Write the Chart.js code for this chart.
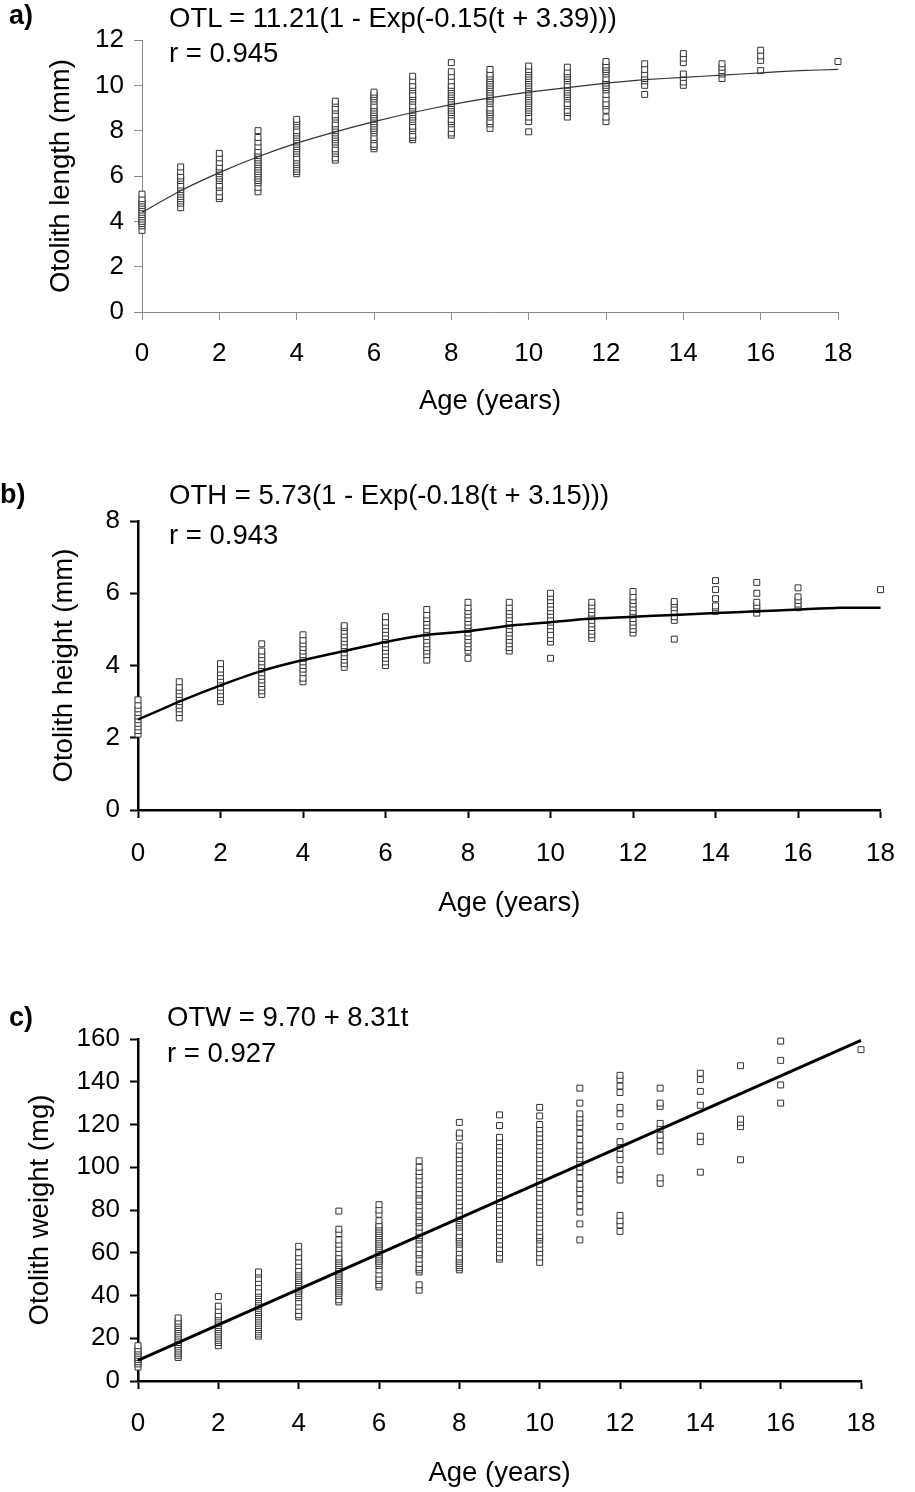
<!DOCTYPE html>
<html>
<head>
<meta charset="utf-8">
<script src="https://cdn.jsdelivr.net/npm/chart.js@4.4.0/dist/chart.umd.min.js"></script>
<style>
  body { margin: 0; background: #fff; width: 915px; height: 1492px; position: relative; overflow: hidden;
         font-family: "Liberation Sans", Arial, sans-serif; color: #000; }
  .panel { position: absolute; left: 0; width: 915px; }
  .note { position: absolute; font-size: 27.5px; line-height: 30px; white-space: nowrap; }
  .tag { position: absolute; font-size: 27px; font-weight: bold; line-height: 28px; }
</style>
</head>
<body>

<div class="panel" style="top:0;height:430px"><canvas id="chartA" width="915" height="430"></canvas></div>
<div class="panel" style="top:470px;height:460px"><canvas id="chartB" width="915" height="460"></canvas></div>
<div class="panel" style="top:990px;height:502px"><canvas id="chartC" width="915" height="502"></canvas></div>

<div class="tag" style="left:9px;top:1px">a)</div>
<div class="note" style="left:169px;top:3px">OTL = 11.21(1 - Exp(-0.15(t + 3.39)))</div>
<div class="note" style="left:169px;top:38px">r = 0.945</div>

<div class="tag" style="left:0px;top:480px">b)</div>
<div class="note" style="left:169px;top:480px">OTH = 5.73(1 - Exp(-0.18(t + 3.15)))</div>
<div class="note" style="left:169px;top:520px">r = 0.943</div>

<div class="tag" style="left:9px;top:1003px">c)</div>
<div class="note" style="left:167px;top:1002px">OTW = 9.70 + 8.31t</div>
<div class="note" style="left:167px;top:1038px">r = 0.927</div>

<script>
// ages 0..18 (no fish of age 17)
const ages = [0, 1, 2, 3, 4, 5, 6, 7, 8, 9, 10, 11, 12, 13, 14, 15, 16, 17, 18];

// a) otolith length (mm), one list per age
const lengthByAge = [
  [3.6, 3.8, 3.9, 4.0, 4.1, 4.2, 4.3, 4.4, 4.5, 4.6, 4.7, 4.8, 4.9, 5.0, 5.2],
  [4.6, 4.8, 4.9, 5.0, 5.1, 5.2, 5.3, 5.4, 5.5, 5.6, 5.8, 5.9, 6.0, 6.2, 6.4],
  [5.0, 5.1, 5.3, 5.5, 5.6, 5.8, 5.9, 6.0, 6.1, 6.2, 6.3, 6.4, 6.6, 6.8, 7.0],
  [5.3, 5.5, 5.7, 5.8, 5.9, 6.0, 6.1, 6.2, 6.3, 6.4, 6.5, 6.6, 6.7, 6.8, 6.9, 7.0, 7.1, 7.3, 7.5, 7.7, 8.0],
  [6.1, 6.2, 6.3, 6.4, 6.5, 6.6, 6.7, 6.8, 7.0, 7.1, 7.2, 7.3, 7.4, 7.5, 7.6, 7.7, 7.8, 7.9, 8.0, 8.2, 8.3, 8.4, 8.5],
  [6.7, 6.8, 7.0, 7.1, 7.2, 7.4, 7.5, 7.6, 7.7, 7.8, 7.9, 8.0, 8.1, 8.2, 8.3, 8.5, 8.6, 8.7, 8.9, 9.0, 9.2, 9.3],
  [7.2, 7.3, 7.4, 7.6, 7.7, 7.9, 8.0, 8.1, 8.2, 8.3, 8.4, 8.5, 8.6, 8.7, 8.8, 8.9, 9.0, 9.1, 9.3, 9.4, 9.5, 9.6, 9.7],
  [7.6, 7.7, 7.8, 8.0, 8.1, 8.2, 8.4, 8.5, 8.6, 8.7, 8.8, 8.9, 9.0, 9.1, 9.3, 9.4, 9.5, 9.6, 9.8, 9.9, 10.0, 10.2, 10.4],
  [7.8, 7.9, 8.1, 8.3, 8.4, 8.5, 8.7, 8.8, 8.9, 9.0, 9.1, 9.2, 9.3, 9.4, 9.5, 9.6, 9.7, 9.8, 9.9, 10.0, 10.2, 10.4, 10.6, 11.0],
  [8.1, 8.3, 8.4, 8.6, 8.7, 8.8, 8.9, 9.0, 9.2, 9.3, 9.4, 9.5, 9.6, 9.7, 9.8, 9.9, 10.0, 10.1, 10.2, 10.3, 10.4, 10.5, 10.7],
  [7.95, 8.4, 8.6, 8.8, 8.9, 9.0, 9.1, 9.2, 9.3, 9.4, 9.5, 9.6, 9.7, 9.8, 9.9, 10.0, 10.1, 10.2, 10.3, 10.4, 10.5, 10.6, 10.7, 10.85],
  [8.6, 8.8, 8.9, 9.1, 9.2, 9.4, 9.5, 9.6, 9.7, 9.8, 9.9, 10.0, 10.2, 10.3, 10.4, 10.5, 10.6, 10.8],
  [8.4, 8.6, 8.9, 9.1, 9.2, 9.4, 9.6, 9.8, 9.9, 10.0, 10.1, 10.2, 10.3, 10.5, 10.6, 10.7, 10.8, 10.9, 11.05],
  [9.6, 10.0, 10.2, 10.3, 10.5, 10.7, 10.95],
  [10.0, 10.15, 10.35, 10.5, 11.0, 11.2, 11.4],
  [10.3, 10.5, 10.65, 10.8, 10.95],
  [10.65, 11.1, 11.3, 11.55],
  [],
  [11.05]
];
const lengthFit = [4.4, 5.35, 6.15, 6.85, 7.45, 7.95, 8.4, 8.8, 9.15, 9.45, 9.7, 9.9, 10.1, 10.25, 10.35, 10.45, 10.55, 10.65, 10.7];

// b) otolith height (mm)
const heightByAge = [
  [2.1, 2.2, 2.3, 2.4, 2.5, 2.6, 2.7, 2.8, 2.9, 3.05],
  [2.55, 2.7, 2.8, 2.9, 3.0, 3.1, 3.2, 3.3, 3.4, 3.55],
  [3.0, 3.1, 3.2, 3.3, 3.4, 3.5, 3.6, 3.7, 3.8, 3.9, 4.05],
  [3.2, 3.3, 3.4, 3.5, 3.6, 3.7, 3.8, 3.9, 4.0, 4.1, 4.2, 4.3, 4.4, 4.6],
  [3.55, 3.65, 3.8, 3.9, 4.0, 4.1, 4.2, 4.3, 4.4, 4.5, 4.6, 4.7, 4.85],
  [3.95, 4.05, 4.15, 4.25, 4.35, 4.45, 4.55, 4.65, 4.75, 4.85, 4.95, 5.05, 5.1],
  [4.0, 4.1, 4.2, 4.3, 4.4, 4.5, 4.6, 4.7, 4.8, 4.9, 5.0, 5.1, 5.2, 5.35],
  [4.15, 4.3, 4.4, 4.5, 4.6, 4.7, 4.8, 4.9, 5.0, 5.1, 5.2, 5.3, 5.4, 5.55],
  [4.2, 4.4, 4.5, 4.6, 4.7, 4.8, 4.9, 5.0, 5.1, 5.2, 5.3, 5.4, 5.5, 5.6, 5.75],
  [4.4, 4.5, 4.6, 4.7, 4.8, 4.9, 5.0, 5.1, 5.2, 5.3, 5.4, 5.5, 5.6, 5.75],
  [4.2, 4.65, 4.75, 4.85, 5.0, 5.1, 5.2, 5.3, 5.4, 5.5, 5.6, 5.7, 5.8, 5.9, 6.0],
  [4.75, 4.85, 4.95, 5.05, 5.15, 5.25, 5.35, 5.45, 5.55, 5.65, 5.75],
  [4.9, 5.0, 5.1, 5.2, 5.3, 5.4, 5.5, 5.6, 5.7, 5.8, 5.9, 6.05],
  [4.73, 5.25, 5.35, 5.5, 5.6, 5.7, 5.77],
  [5.5, 5.6, 5.65, 5.85, 6.1, 6.35],
  [5.45, 5.55, 5.65, 5.75, 6.0, 6.3],
  [5.6, 5.7, 5.8, 5.9, 6.15],
  [],
  [6.1]
];
const heightFit = [2.5, 3.0, 3.45, 3.85, 4.15, 4.4, 4.65, 4.85, 4.95, 5.1, 5.2, 5.3, 5.35, 5.4, 5.45, 5.5, 5.55, 5.6, 5.6];

// c) otolith weight (mg)
const weightByAge = [
  [6.5, 8, 9, 10, 11, 12, 13, 14, 15, 16.5],
  [11, 12, 13, 14, 15, 16, 17, 18, 19, 20, 21, 22, 23, 24, 25, 26, 27, 28, 29.5],
  [16.5, 18, 19, 20, 21, 22, 23, 24, 25, 26, 27, 28, 29, 30, 31, 33, 35, 39.5],
  [21, 22, 23, 24, 25, 26, 27, 28, 29, 30, 31, 32, 33, 34, 35, 36, 37, 38, 39, 40, 41, 42, 44, 46, 48, 50, 51],
  [30, 31, 33, 35, 37, 39, 40, 41, 42, 43, 44, 45, 46, 47, 48, 49, 50, 51, 52, 54, 56, 58, 60, 63],
  [37, 38, 40, 41, 42, 43, 44, 45, 46, 47, 48, 49, 50, 51, 52, 53, 54, 55, 56, 57, 58, 60, 62, 64, 66, 69, 71, 79.5],
  [44, 45, 47, 48, 50, 52, 54, 55, 56, 57, 58, 59, 60, 61, 62, 63, 64, 65, 66, 67, 68, 69, 70, 71, 72, 73, 75, 78, 80, 82.5],
  [42.5, 45, 51, 52, 53, 55, 57, 59, 60, 62, 64, 66, 67, 68, 70, 72, 74, 75, 77, 78, 80, 82, 84, 85, 87, 88, 90, 92, 94, 96, 98, 100, 103],
  [52, 53, 54, 55, 56, 57, 58, 60, 62, 64, 65, 66, 67, 68, 70, 72, 73, 74, 75, 76, 77, 78, 80, 82, 84, 86, 88, 90, 92, 94, 96, 98, 100, 102, 104, 106, 108, 110, 114, 116, 121],
  [57, 58, 60, 62, 64, 66, 68, 70, 72, 74, 76, 78, 80, 82, 84, 86, 88, 90, 92, 94, 96, 98, 100, 102, 104, 106, 108, 110, 112, 114, 119.5, 124.5],
  [55.5, 58, 60, 62, 64, 66, 67, 68, 70, 72, 74, 76, 78, 80, 82, 84, 86, 88, 90, 92, 94, 96, 98, 100, 102, 104, 106, 108, 110, 112, 114, 116, 118, 120, 124, 128],
  [66, 73.5, 79, 82, 85, 88, 90, 92, 95, 98, 100, 102, 104, 106, 108, 110, 113, 116, 119, 121, 123, 125, 130, 137],
  [70, 73, 75, 77.5, 94, 97, 99, 103.5, 106, 109, 112, 119, 125, 128, 135, 138, 141, 143],
  [92.5, 95, 107.5, 110, 113, 115, 118, 120.5, 128.5, 130, 137],
  [97.7, 112, 114.5, 129, 135.5, 141, 144],
  [103.5, 119, 121, 122.5, 147.5],
  [130, 138.5, 150, 159],
  [],
  [155]
];
// straight regression line, read at both ends
const weightFitAges = [0, 18];
const weightFit = [9.7, 159.3];

const FONT = '"Liberation Sans", Arial, sans-serif';

function toPoints(byAge) {
  const pts = [];
  byAge.forEach((vals, i) => vals.forEach(v => pts.push({ x: ages[i], y: v })));
  return pts;
}

function pair(xs, ys) {
  return xs.map((x, i) => ({ x: x, y: ys[i] }));
}

function makeChart(id, p) {
  const axisTitle = { size: 27.5, family: FONT };
  const tickFont = { size: 26, family: FONT };
  return new Chart(document.getElementById(id), {
    type: 'scatter',
    data: {
      datasets: [
        {
          data: p.fit,
          showLine: true,
          borderColor: p.lineColor,
          borderWidth: p.lineWidth,
          pointRadius: 0,
          fill: false,
          tension: 0.2,
          clip: false
        },
        {
          data: p.points,
          pointStyle: 'rect',
          pointRadius: 4.2,
          borderWidth: 1,
          borderColor: '#333',
          backgroundColor: '#fff',
          clip: false
        }
      ]
    },
    options: {
      responsive: false,
      animation: false,
      devicePixelRatio: 1,
      events: [],
      layout: { padding: { top: p.top, right: p.right, bottom: 0, left: 0 } },
      plugins: { legend: { display: false }, tooltip: { enabled: false } },
      scales: {
        x: {
          type: 'linear', min: 0, max: 18,
          afterFit: s => { s.height = p.xHeight; },
          ticks: { stepSize: 2, padding: p.xTickPad, color: '#000', font: tickFont },
          grid: { drawOnChartArea: false, drawTicks: true, tickLength: 8, tickWidth: p.tickWidth, tickColor: p.axisColor },
          border: { display: true, color: p.axisColor, width: p.axisWidth },
          title: { display: true, text: 'Age (years)', color: '#000', font: axisTitle, padding: { top: 0, bottom: p.xTitlePad } }
        },
        y: {
          type: 'linear', min: 0, max: p.yMax,
          afterFit: s => { s.width = p.left; },
          ticks: { stepSize: p.yStep, padding: 10, color: '#000', font: tickFont },
          grid: { drawOnChartArea: false, drawTicks: true, tickLength: 8, tickWidth: p.tickWidth, tickColor: p.axisColor },
          border: { display: true, color: p.axisColor, width: p.axisWidth },
          title: { display: true, text: p.yTitle, color: '#000', font: axisTitle, padding: { top: p.yTitlePad, bottom: 0 } }
        }
      }
    }
  });
}

makeChart('chartA', {
  points: toPoints(lengthByAge), fit: pair(ages, lengthFit),
  lineColor: '#333', lineWidth: 1.2, axisColor: '#888', axisWidth: 1, tickWidth: 1,
  top: 40, right: 77, left: 142, xHeight: 118, xTickPad: 18, xTitlePad: 12,
  yMax: 12, yStep: 2, yTitle: 'Otolith length (mm)', yTitlePad: 45
});

makeChart('chartB', {
  points: toPoints(heightByAge), fit: pair(ages, heightFit),
  lineColor: '#000', lineWidth: 2.5, axisColor: '#000', axisWidth: 2.5, tickWidth: 2,
  top: 51, right: 22, left: 138, xHeight: 120, xTickPad: 20, xTitlePad: 10,
  yMax: 8, yStep: 2, yTitle: 'Otolith height (mm)', yTitlePad: 48
});

makeChart('chartC', {
  points: toPoints(weightByAge), fit: pair(weightFitAges, weightFit),
  lineColor: '#000', lineWidth: 3, axisColor: '#000', axisWidth: 2.5, tickWidth: 2,
  top: 49, right: 54, left: 138, xHeight: 111, xTickPad: 19, xTitlePad: 2,
  yMax: 160, yStep: 20, yTitle: 'Otolith weight (mg)', yTitlePad: 24
});
</script>
</body>
</html>
